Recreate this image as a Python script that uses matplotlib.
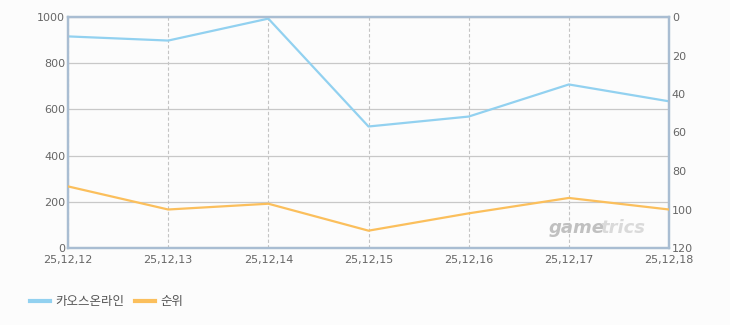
import matplotlib
matplotlib.use("Agg")
import matplotlib.pyplot as plt

plt.rcParams["font.family"] = ["DejaVu Sans", "Noto Sans CJK KR"]

# ---------------------------------------------------------------------------
# Data
# ---------------------------------------------------------------------------
DATES = ["25,12,12", "25,12,13", "25,12,14", "25,12,15", "25,12,16", "25,12,17", "25,12,18"]
USERS = [916, 898, 993, 526, 569, 708, 635]      # 카오스온라인 (left axis)
RANK = [88, 100, 97, 111, 102, 94, 100]          # 순위 (right axis, inverted)

BLUE = "#92d1f0"
ORANGE = "#fbbf5c"
FRAME = "#a9bdd2"
TICK_COLOR = "#666666"

fig = plt.figure(figsize=(7.3, 3.25), dpi=100)
fig.patch.set_facecolor("#fcfcfc")
ax = fig.add_axes([68 / 730, 1 - 248 / 325, (669 - 68) / 730, (248 - 17) / 325])
ax.set_facecolor("#fcfcfc")

x = list(range(len(DATES)))
ax.plot(x, USERS, color=BLUE, linewidth=1.6, zorder=3)
ax.set_xlim(0, len(DATES) - 1)
ax.set_ylim(0, 1000)
ax.set_yticks([0, 200, 400, 600, 800, 1000])
ax.set_xticks(x)
ax.set_xticklabels(DATES)

ax.yaxis.grid(True, color="#c8c8c8", linewidth=0.9)
ax.xaxis.grid(True, color="#c4c4c4", linewidth=0.8, linestyle=(0, (3, 2)))
ax.set_axisbelow(True)
ax.tick_params(axis="y", length=0, labelsize=8, colors=TICK_COLOR, pad=2)
ax.tick_params(axis="x", length=0, labelsize=8, colors=TICK_COLOR, pad=5)

ax2 = ax.twinx()
ax2.plot(x, RANK, color=ORANGE, linewidth=1.6, zorder=3)
ax2.set_ylim(120, 0)
ax2.set_yticks([0, 20, 40, 60, 80, 100, 120])
ax2.tick_params(axis="y", length=0, labelsize=8, colors=TICK_COLOR, pad=2)

for a in (ax, ax2):
    for side in ("left", "right", "top", "bottom"):
        a.spines[side].set_color(FRAME)
        a.spines[side].set_linewidth(1.6)

# watermark, two tones like the original logo
ax.text(0.893, 0.065, "game", transform=ax.transAxes, ha="right", va="baseline",
        fontsize=13, fontweight="bold", fontstyle="italic", color="#c0c0c0", zorder=1)
ax.text(0.886, 0.065, "trics", transform=ax.transAxes, ha="left", va="baseline",
        fontsize=13, fontweight="bold", fontstyle="italic", color="#dadada", zorder=1)

# legend at bottom left
y_leg = 1 - 301 / 325
fig.lines.append(plt.Line2D([30 / 730, 50 / 730], [y_leg] * 2, transform=fig.transFigure,
                            color=BLUE, linewidth=3))
fig.text(55 / 730, y_leg, "카오스온라인", fontsize=9, color="#555555",
         va="center", ha="left", family=["Noto Sans CJK KR"])
fig.lines.append(plt.Line2D([135 / 730, 155 / 730], [y_leg] * 2, transform=fig.transFigure,
                            color=ORANGE, linewidth=3))
fig.text(160 / 730, y_leg, "순위", fontsize=9, color="#555555",
         va="center", ha="left", family=["Noto Sans CJK KR"])

fig.savefig("out.png", dpi=100, facecolor=fig.get_facecolor())
